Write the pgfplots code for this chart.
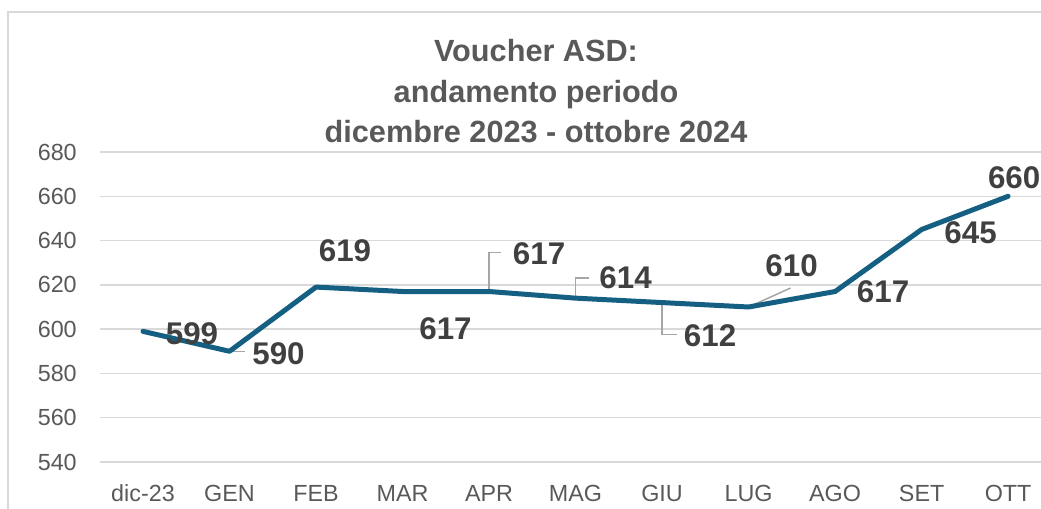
\documentclass[border=0pt]{standalone}
\usepackage{fontspec}
\setmainfont{Liberation Sans}
\usepackage{pgfplots}
\pgfplotsset{compat=1.18}
\usepackage{pgfplotstable}
\definecolor{linec}{RGB}{21,96,130}
\definecolor{ticktxt}{RGB}{89,89,89}
\definecolor{labtxt}{RGB}{64,64,64}
\definecolor{gridc}{RGB}{217,217,217}
\definecolor{leadc}{RGB}{166,166,166}
\definecolor{framec}{RGB}{217,217,217}
\def\px{0.75pt}

\pgfplotstableread{
x y dx dy
0 599 49 -2
1 590 49 -2
2 619 29 36
3 617 43 -37
4 617 50 38
5 614 50 20
6 612 48 -33
7 610 43 41
8 617 48 0
9 645 49 -3
10 660 6 19
}\data

\begin{document}
\begin{tikzpicture}
\useasboundingbox (0,0) rectangle (1041*\px,508*\px);
\clip (0,0) rectangle (1041*\px,508*\px);
\draw[framec, line width=1.5*\px] (8*\px,496*\px) rectangle (1100*\px,-20*\px);
\begin{axis}[
  at={(100*\px,46*\px)}, anchor=south west,
  scale only axis, width=941*\px, height=310*\px,
  xmin=-0.497, xmax=10.38, ymin=540, ymax=680,
  ytick={540,560,...,680},
  xtick={0,...,10},
  xticklabels={dic-23,GEN,FEB,MAR,APR,MAG,GIU,LUG,AGO,SET,OTT},
  axis line style={draw=none}, major tick length=0pt,
  ymajorgrids, grid style={gridc, line width=1.5*\px},
  /pgf/number format/assume math mode=true,
  tick label style={font=\fontsize{17.5}{20}\selectfont, text=ticktxt},
  yticklabel style={anchor=east, inner sep=0pt, xshift=-23*\px},
  xticklabel style={anchor=base, inner sep=0pt, yshift=-39*\px},
  clip=false,
]
\draw[leadc, line width=1.5*\px] (axis cs:1,590) -- ++(15*\px,0pt);
\draw[leadc, line width=1.5*\px] (axis cs:4,617) -- ++(0pt,39*\px) -- ++(12*\px,0pt);
\draw[leadc, line width=1.5*\px] (axis cs:5,614) -- ++(0pt,20*\px) -- ++(13*\px,0pt);
\draw[leadc, line width=1.5*\px] (axis cs:6,612) -- ++(0pt,-32*\px) -- ++(15*\px,0pt);
\draw[leadc, line width=1.5*\px] (axis cs:7,610) -- ++(42*\px,19*\px);
\addplot[linec, line width=5*\px, line join=round, line cap=round, mark=none] table[x=x,y=y]{\data};
\addplot[draw=none, mark=none, nodes near coords, point meta=explicit symbolic,
  visualization depends on={\thisrow{dx} \as \dx},
  visualization depends on={\thisrow{dy} \as \dy},
  every node near coord/.append style={anchor=center, xshift=\dx*\px, yshift=\dy*\px,
    font=\fontsize{23.5}{26}\selectfont\bfseries, text=labtxt, inner sep=0pt},
] table[x=x,y=y,meta=y]{\data};
\end{axis}
\node[anchor=base, font=\fontsize{23}{26}\selectfont\bfseries, text=ticktxt] at (536*\px,446*\px) {Voucher ASD:};
\node[anchor=base, font=\fontsize{23}{26}\selectfont\bfseries, text=ticktxt] at (536*\px,406*\px) {andamento periodo};
\node[anchor=base, font=\fontsize{23}{26}\selectfont\bfseries, text=ticktxt] at (536*\px,366*\px) {dicembre 2023 - ottobre 2024};
\end{tikzpicture}
\end{document}
